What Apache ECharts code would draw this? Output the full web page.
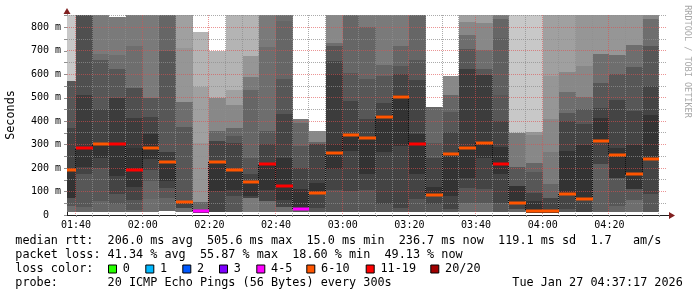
<!DOCTYPE html>
<html><head><meta charset="utf-8">
<script src="https://cdn.jsdelivr.net/npm/echarts@6/dist/echarts.min.js"></script>
<style>html,body{margin:0;padding:0;background:#fff}#c{width:697px;height:297px}</style>
</head><body><div id="c"></div>
<script>
// ---------------- data ----------------
const windowStart = '01:37:17';
const windowEnd = '04:37:17';
const slotMinutes = 5;
const slotEnds = ['01:40','01:45','01:50','01:55','02:00','02:05','02:10','02:15','02:20','02:25','02:30','02:35',
  '02:40','02:45','02:50','02:55','03:00','03:05','03:10','03:15','03:20','03:25','03:30','03:35',
  '03:40','03:45','03:50','03:55','04:00','04:05','04:10','04:15','04:20','04:25','04:30','04:35'];
const medianRtt = [190,287,302,302,190,285,227,55,15,224,193,139,216,122,24,95,264,342,327,420,505,304,86,260,287,308,219,51,15,15,90,68,316,256,173,237];
const lossBucket = [5,6,5,6,6,5,5,5,4,5,5,5,6,6,4,5,5,5,5,5,5,6,5,5,5,5,6,5,5,5,5,5,5,5,5,5];
const lossLabels = ['0','1','2','3','4-5','6-10','11-19','20/20'];
// ping distribution band edges (ms), bottom to top, per slot
const smokeEdges = [
  [12,38,72,190,372,573,900],
  [14,34,176,204,287,511,900],
  [14,60,201,244,302,450,663,687,900],
  [14,45,88,166,302,497,623,683,843],
  [12,23,66,121,287,414,542,720,900],
  [14,67,145,194,237,346,417,500,900],
  [17,71,116,144,227,270,701,900],
  [14,30,45,60,376,480,714,900],
  [8,20,57,307,548,781],
  [14,101,224,315,358,498,699],
  [14,81,105,193,308,336,369,471,531,900],
  [14,71,81,139,176,244,535,588,677,900],
  [14,60,105,216,301,358,716,900],
  [14,34,62,241,429,578,829,900],
  [14,20,109,202,294,394,408],
  [14,31,95,138,301,312,358],
  [14,105,195,301,602,656,720,734,900],
  [14,102,273,347,486,606,900],
  [14,105,173,332,408,578,802,900],
  [14,45,270,426,479,592,639,900],
  [14,31,294,511,602,635,720,900],
  [14,67,176,346,574,663,900],
  [14,45,80,119,244,308,460],
  [14,24,81,266,355,440,511,592],
  [14,52,116,159,294,621,706,767,824,900],
  [14,52,109,241,315,599,621,702,817,900],
  [14,52,173,289,400,511,756,834,900],
  [12,24,51,124,206,351,900],
  [8,60,93,185,222,340,355,900],
  [8,20,71,134,270,408,592,900],
  [14,24,85,273,403,436,525,611,900],
  [14,63,298,386,450,503,635,900],
  [14,216,316,412,457,564,687,900],
  [14,38,159,284,489,602,684,900],
  [14,62,109,298,443,631,723,900],
  [14,91,237,426,550,720,834,900]
];
// band rank (0 = closest to median, larger = further out)
const smokeRank = [
  [7,4,0,2,4,13],
  [6,4,2,0,1,3],
  [6,4,2,0,2,4,7,8],
  [6,4,2,0,1,4,7,8],
  [6,4,2,0,1,3,7,8],
  [7,6,4,2,0,2,4,8],
  [6,4,2,0,1,4,6],
  [7,2,0,4,7,10,11],
  [1,6,10,11,12],
  [2,0,2,6,9,12],
  [4,2,0,2,4,6,9,11,12],
  [8,2,0,2,4,6,8,10,12],
  [7,2,0,2,4,7,8],
  [7,2,0,2,4,6,7],
  [4,0,2,4,6,8],
  [4,2,0,2,6,9],
  [4,2,0,1,2,4,7,9],
  [4,2,0,2,4,6],
  [4,2,0,2,4,6,8],
  [4,2,0,2,4,6,8],
  [4,2,0,2,4,6,8],
  [4,2,0,2,4,6],
  [4,2,0,2,4,6],
  [4,2,0,2,4,6,9],
  [7,4,2,0,1,4,7,9,11],
  [7,4,2,0,1,4,7,9,11],
  [4,2,0,2,4,5,6,8],
  [6,2,0,4,8,13],
  [0,2,4,6,9,10,13],
  [0,2,6,8,9,10,11],
  [4,2,0,2,4,7,9,11],
  [2,0,2,4,7,9,10],
  [5,2,0,2,4,7,10],
  [6,4,0,2,4,7,10],
  [7,4,0,2,4,7,10],
  [4,2,0,2,4,7,9]
];
const yMax = 853;
const yLabelValues = [0,100,200,300,400,500,600,700,800];
const xLabelTimes = ['01:40','02:00','02:20','02:40','03:00','03:20','03:40','04:00','04:20'];
const rttStats = ['206.0 ms avg','505.6 ms max','15.0 ms min','236.7 ms now','119.1 ms sd','1.7','am/s'];
const lossStats = ['41.34 % avg','55.87 % max','18.60 % min','49.13 % now'];
const probeText = '20 ICMP Echo Pings (56 Bytes) every 300s';
const stampText = 'Tue Jan 27 04:37:17 2026';

// ---------------- styles / layout ----------------
const shadePalette = ['#333333','#3c3c3c','#444444','#4f4f4f','#575757','#5f5f5f','#666666','#6e6e6e',
  '#7a7a7a','#888888','#969696','#a0a0a0','#b4b4b4','#c8c8c8'];
const lossColors = ['#26ff00','#00b8ff','#0059ff','#7e00ff','#ff00ff','#ff5500','#ff0000','#a10000'];
const MONO = '"DejaVu Sans Mono", monospace';
const CW = 7.1, X0 = 15.3, LEG_FS = 11.8;
const rttCols = [13, 27, 41, 54, 68, 81, 87];
const lossCols = [13, 26, 39, 52];
const boxX = [108.5, 145.8, 182.8, 219.5, 256.8, 306.8, 366.2, 430.8];

// ---------------- build ----------------
const toMin = s => { const p = s.split(':').map(Number); return p[0]*60 + p[1] + (p[2] || 0)/60; };
const xMin = toMin(windowStart), xMax = toMin(windowEnd);
const ends = slotEnds.map(toMin);
const fmtTime = v => { const h = Math.floor(v/60), m = Math.round(v - h*60); return String(h).padStart(2,'0') + ':' + String(m).padStart(2,'0'); };

const smokeData = [];
smokeEdges.forEach((e, c) => { for (let k = 0; k < e.length - 1; k++) smokeData.push([ends[c], e[k], e[k+1], smokeRank[c][k]]); });
const medianData = medianRtt.map((m, c) => [ends[c], m, lossBucket[c]]);
const linkData = [];
for (let c = 1; c < medianRtt.length; c++) linkData.push([ends[c-1], medianRtt[c-1], medianRtt[c]]);

const tickTimes = []; for (let t = Math.ceil(xMin/5)*5; t <= xMax; t += 5) tickTimes.push(t);
const yTickVals = []; for (let v = 0; v <= yMax; v += 50) yTickVals.push(v);

function clip(r, cs) { return echarts.graphic.clipRectByRect(r, {x: cs.x, y: cs.y, width: cs.width, height: cs.height}); }

const chart = echarts.init(document.getElementById('c'), null, {renderer: 'canvas'});

const graphics = [];
function txt(x, y, s, extra) {
  graphics.push({type: 'text', x: x, y: y, silent: true,
    style: Object.assign({text: s, fontFamily: MONO, fontSize: LEG_FS, fill: '#000', align: 'left', verticalAlign: 'middle'}, extra || {})});
}
const col = c => X0 + c * CW;
const rowY = [241.2, 255.1, 269, 282.7];
txt(col(0), rowY[0], 'median rtt:');
rttCols.forEach((c, i) => txt(col(c), rowY[0], rttStats[i]));
txt(col(0), rowY[1], 'packet loss:');
lossCols.forEach((c, i) => txt(col(c), rowY[1], lossStats[i]));
txt(col(0), rowY[2], 'loss color:');
boxX.forEach((x, i) => {
  graphics.push({type: 'rect', silent: true, shape: {x: x, y: 265, width: 8, height: 8},
    style: {fill: lossColors[i], stroke: '#000', lineWidth: 1}});
  txt(x + 14.3, rowY[2], lossLabels[i]);
});
txt(col(0), rowY[3], 'probe:');
txt(col(13), rowY[3], probeText);
txt(col(70), rowY[3], stampText);
// axis title and watermark
graphics.push({type: 'text', x: 10.5, y: 115, rotation: Math.PI/2, silent: true,
  style: {text: 'Seconds', fontFamily: MONO, fontSize: LEG_FS, fill: '#000', align: 'center', verticalAlign: 'middle'}});
graphics.push({type: 'text', x: 687.5, y: 61.5, rotation: -Math.PI/2, silent: true,
  style: {text: 'RRDTOOL / TOBI OETIKER', fontFamily: MONO, fontSize: 8.5, fill: '#a8a8a8', align: 'center', verticalAlign: 'middle'}});
// axis arrows
graphics.push({type: 'polygon', silent: true, shape: {points: [[67, 8], [63.5, 14], [70.5, 14]]}, style: {fill: '#801f1f'}});
graphics.push({type: 'line', silent: true, shape: {x1: 667, y1: 215.5, x2: 670, y2: 215.5}, style: {stroke: '#1f1f1f', lineWidth: 1}});
graphics.push({type: 'polygon', silent: true, shape: {points: [[675, 215.5], [669, 212], [669, 219]]}, style: {fill: '#801f1f'}});

const option = {
  animation: false,
  backgroundColor: '#ffffff',
  grid: {left: 67, top: 15, width: 600, height: 200, containLabel: false},
  xAxis: {
    type: 'value', min: xMin, max: xMax,
    axisLine: {show: true, lineStyle: {color: '#1f1f1f', width: 1}},
    axisTick: {show: true, customValues: tickTimes, length: 2, lineStyle: {color: '#8f8f8f'}},
    axisLabel: {customValues: xLabelTimes.map(toMin), formatter: v => fmtTime(v),
      fontFamily: MONO, fontSize: 10, color: '#000', margin: 5},
    splitLine: {show: false}
  },
  yAxis: {
    type: 'value', min: 0, max: yMax,
    axisLine: {show: true, lineStyle: {color: '#1f1f1f', width: 1}},
    axisTick: {show: true, customValues: yTickVals, length: 3, lineStyle: {color: '#8f8f8f'}},
    axisLabel: {customValues: yLabelValues, formatter: v => v === 0 ? '0  ' : v + ' m',
      fontFamily: MONO, fontSize: 10, color: '#000', margin: 6},
    splitLine: {show: false}
  },
  graphic: graphics,
  series: [
    { // smoke bands
      type: 'custom', z: 2, silent: true, data: smokeData,
      encode: {x: 0, y: [1, 2]},
      renderItem: (params, api) => {
        const t1 = api.value(0), lo = api.value(1), hi = api.value(2), lv = api.value(3);
        const a = api.coord([t1 - slotMinutes, hi]), b = api.coord([t1, lo]);
        const x0 = Math.round(a[0]), x1 = Math.round(b[0]), y0 = Math.round(a[1]), y1 = Math.round(b[1]);
        const r = clip({x: x0, y: y0, width: x1 - x0, height: y1 - y0}, params.coordSys);
        if (!r) return null;
        return {type: 'rect', shape: r, style: {fill: shadePalette[lv]}};
      }
    },
    { // grid drawn over the smoke, rrdtool style
      type: 'custom', z: 3, silent: true, data: [[xMin + 1, 1]],
      renderItem: (params, api) => {
        const cs = params.coordSys, kids = [];
        tickTimes.forEach(t => {
          const x = Math.round(api.coord([t, 0])[0]) - 0.5;
          const major = Math.round(t) % 20 === 0;
          kids.push({type: 'line', shape: {x1: x, y1: cs.y, x2: x, y2: cs.y + cs.height},
            style: {stroke: major ? 'rgba(222,79,79,0.6)' : 'rgba(143,143,143,0.75)', lineWidth: 1, lineDash: [1, 1]}});
        });
        yTickVals.forEach(v => {
          if (v === 0) return;
          const y = Math.floor(api.coord([xMin, v])[1]) + 0.5;
          const major = v % 100 === 0;
          kids.push({type: 'line', shape: {x1: cs.x, y1: y, x2: cs.x + cs.width, y2: y},
            style: {stroke: major ? 'rgba(222,79,79,0.6)' : 'rgba(143,143,143,0.75)', lineWidth: 1, lineDash: [1, 1]}});
        });
        return {type: 'group', children: kids};
      }
    },
    { // dotted links between adjacent medians
      type: 'custom', z: 4, silent: true, data: linkData,
      renderItem: (params, api) => {
        const t = api.value(0);
        const a = api.coord([t, api.value(1)]), b = api.coord([t, api.value(2)]);
        const x = Math.round(a[0]) - 0.5;
        return {type: 'line', shape: {x1: x, y1: Math.round(a[1]), x2: x, y2: Math.round(b[1])},
          style: {stroke: '#111', lineWidth: 1, lineDash: [1, 1]}};
      }
    },
    { // median rtt coloured by loss
      type: 'custom', z: 5, silent: true, data: medianData,
      encode: {x: 0, y: 1},
      renderItem: (params, api) => {
        const t1 = api.value(0), m = api.value(1), lc = api.value(2);
        const a = api.coord([t1 - slotMinutes, m]), b = api.coord([t1, m]);
        const x0 = Math.round(a[0]), x1 = Math.round(b[0]), y = Math.round(a[1]);
        const r = clip({x: x0, y: y - 1.5, width: x1 - x0, height: 3}, params.coordSys);
        if (!r) return null;
        return {type: 'rect', shape: r, style: {fill: lossColors[lc]}};
      }
    }
  ]
};
chart.setOption(option);
</script></body></html>
